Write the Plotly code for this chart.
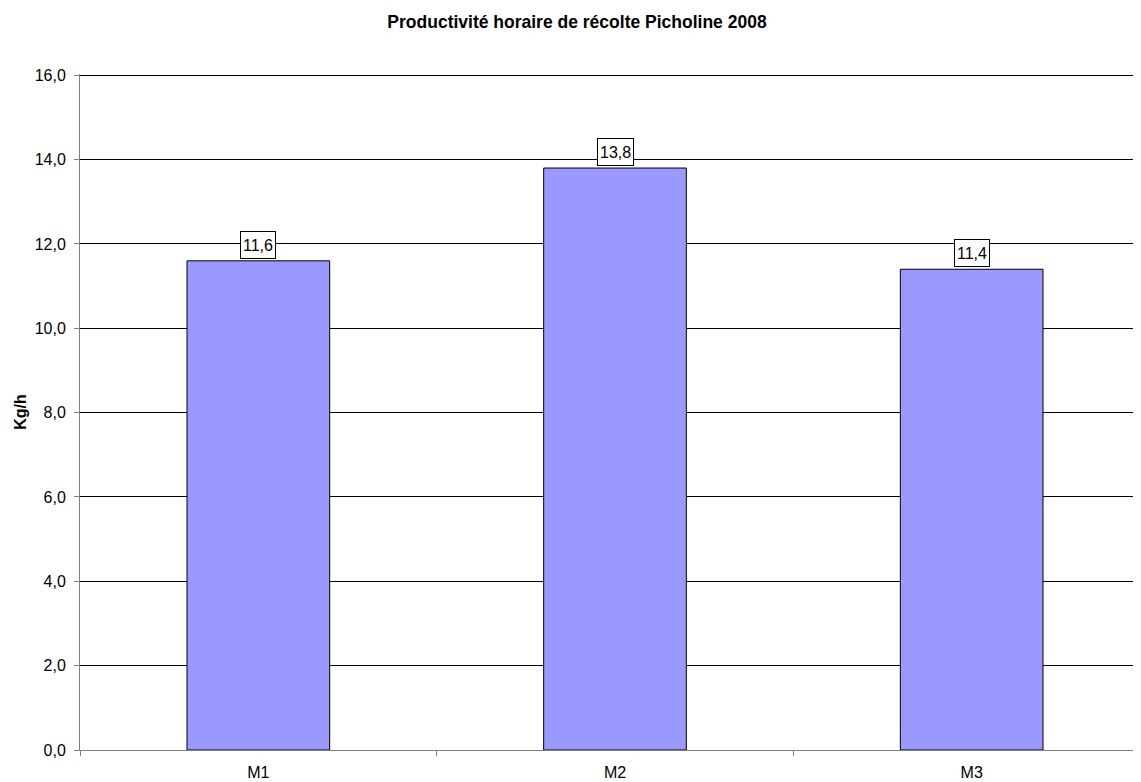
import plotly.graph_objects as go

categories = ["M1", "M2", "M3"]
values = [11.6, 13.8, 11.4]
value_labels = ["11,6", "13,8", "11,4"]
y_ticks = [0, 2, 4, 6, 8, 10, 12, 14, 16]

# page body has an 8px offset; compensate in margins
OFF = 8
W, H = 1141, 782
PLOT_LEFT, PLOT_TOP, PLOT_BOTTOM = 80 - OFF, 75 - OFF, 750 - OFF
CAT_W = 356.67

fig = go.Figure()
fig.add_trace(go.Bar(
    x=categories, y=values, width=0.4,
    marker=dict(color="#9999FF", line=dict(color="#000000", width=1)),
    hoverinfo="skip",
))

for c, v, t in zip(categories, values, value_labels):
    fig.add_annotation(
        x=c, y=v, text=t, showarrow=False, yanchor="bottom", yshift=2,
        font=dict(family="Arial, Liberation Sans", size=16, color="#000"),
        bgcolor="white", bordercolor="#000", borderwidth=1, borderpad=2,
        height=22, valign="middle",
    )

fig.update_layout(
    width=W, height=H,
    margin=dict(l=PLOT_LEFT, r=0, t=PLOT_TOP - 1, b=H - PLOT_BOTTOM),
    paper_bgcolor="white", plot_bgcolor="white",
    separators=", ",
    showlegend=False,
    font=dict(family="Arial, Liberation Sans", size=16, color="#000"),
    title=dict(
        text="<b>Productivité horaire de récolte Picholine 2008</b>",
        x=(577 - OFF) / W, xanchor="center", xref="container",
        y=1 - (22 - OFF) / H, yanchor="middle", yref="container",
        font=dict(size=17.5, color="#000"),
    ),
)
fig.update_xaxes(
    type="category", range=[-0.5, -0.5 + (W - PLOT_LEFT) / CAT_W],
    showline=True, linecolor="#808080", linewidth=1,
    ticks="outside", tickson="boundaries", ticklen=5, tickcolor="#808080",
    ticklabelstandoff=8,
    showgrid=False, tickfont=dict(size=16), fixedrange=True,
)
fig.update_yaxes(
    range=[0, 16.03], tickvals=y_ticks, tickformat=".1f",
    showline=True, linecolor="#808080", linewidth=1,
    ticks="outside", ticklen=5, tickcolor="#808080", ticklabelstandoff=5,
    showgrid=True, gridcolor="#000000", gridwidth=1, zeroline=False,
    title=dict(text="<b>Kg/h</b>", font=dict(size=16), standoff=4),
    tickfont=dict(size=16),
)

fig.write_html("out.html")
